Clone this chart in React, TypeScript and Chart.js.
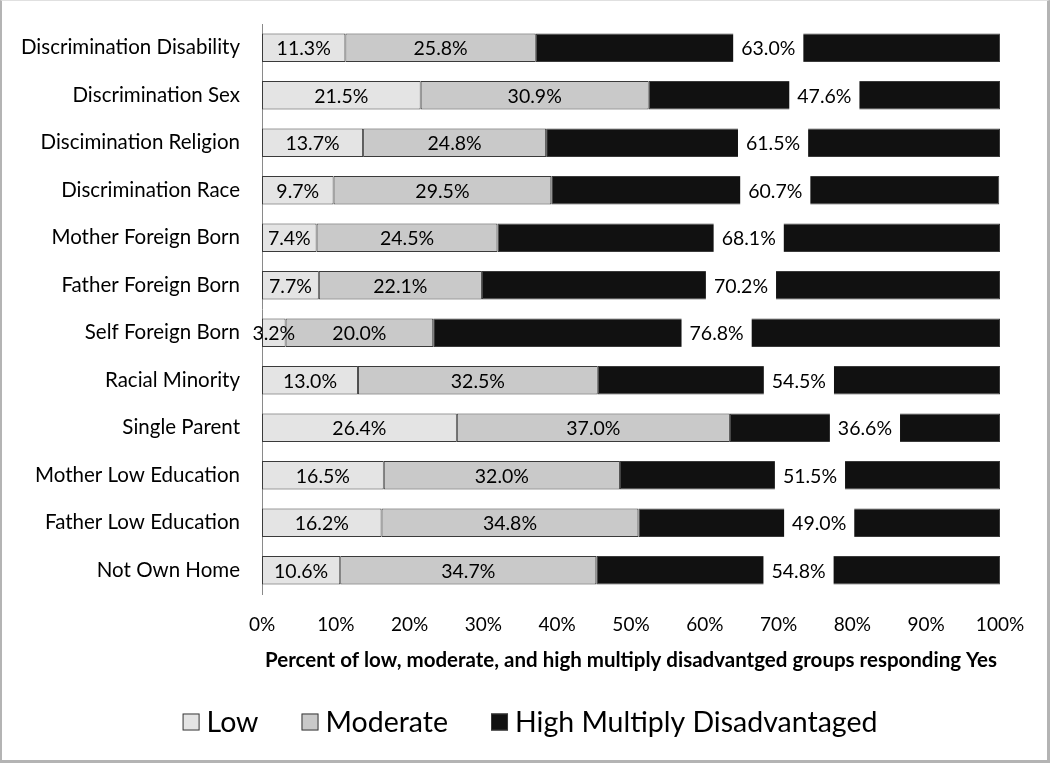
import React, { useEffect, useRef } from "react";
import { Chart, registerables } from "chart.js";

Chart.register(...registerables);

const categories = [
  "Discrimination Disability",
  "Discrimination Sex",
  "Discimination Religion",
  "Discrimination Race",
  "Mother Foreign Born",
  "Father Foreign Born",
  "Self Foreign Born",
  "Racial Minority",
  "Single Parent",
  "Mother Low Education",
  "Father Low Education",
  "Not Own Home",
];
const lowValues = [11.3, 21.5, 13.7, 9.7, 7.4, 7.7, 3.2, 13.0, 26.4, 16.5, 16.2, 10.6];
const moderateValues = [25.8, 30.9, 24.8, 29.5, 24.5, 22.1, 20.0, 32.5, 37.0, 32.0, 34.8, 34.7];
const highValues = [63.0, 47.6, 61.5, 60.7, 68.1, 70.2, 76.8, 54.5, 36.6, 51.5, 49.0, 54.8];
const seriesNames = ["Low", "Moderate", "High Multiply Disadvantaged"];
const xTicks = [0, 10, 20, 30, 40, 50, 60, 70, 80, 90, 100];
const xTitle = "Percent of low, moderate, and high multiply disadvantged groups responding Yes";

const FONT = "Lato, 'Open Sans', sans-serif";

const labelPlugin = {
  id: "segLabels",
  afterDatasetsDraw(chart: any) {
    const ctx = chart.ctx;
    ctx.save();
    ctx.font = `19.5px ${FONT}`;
    ctx.textAlign = "center";
    ctx.textBaseline = "middle";
    chart.data.datasets.forEach((ds: any, di: number) => {
      const meta = chart.getDatasetMeta(di);
      meta.data.forEach((el: any, j: number) => {
        const v = ds.data[j];
        const txt = v.toFixed(1) + "%";
        const cx = (el.x + el.base) / 2;
        const cy = el.y;
        if (di === 2) {
          const w = ctx.measureText(txt).width + 16;
          const h = el.height + 4;
          ctx.fillStyle = "#ffffff";
          ctx.fillRect(cx - w / 2, cy - h / 2, w, h);
        }
        ctx.fillStyle = "#000000";
        ctx.fillText(txt, cx, cy + 1);
      });
    });
    ctx.restore();
  },
};

const legendPlugin = {
  id: "customLegend",
  afterDraw(chart: any) {
    const ctx = chart.ctx;
    const ds = chart.data.datasets;
    const box = 17;
    const gapBoxText = 7;
    const gapItems = 43;
    ctx.save();
    ctx.font = `28.5px ${FONT}`;
    ctx.textBaseline = "middle";
    ctx.textAlign = "left";
    const widths = ds.map((d: any) => ctx.measureText(d.label).width);
    const total =
      widths.reduce((a: number, w: number) => a + box + gapBoxText + w, 0) + gapItems * (ds.length - 1);
    let x = chart.width / 2 + 5 - total / 2;
    const cy = chart.chartArea.bottom + 128;
    ds.forEach((d: any, i: number) => {
      ctx.fillStyle = d.backgroundColor;
      ctx.fillRect(x, cy - box / 2, box, box);
      ctx.strokeStyle = "#3a3a3a";
      ctx.lineWidth = 1;
      ctx.strokeRect(x + 0.5, cy - box / 2 + 0.5, box - 1, box - 1);
      ctx.fillStyle = "#000";
      ctx.fillText(d.label, x + box + gapBoxText, cy + 1);
      x += box + gapBoxText + widths[i] + gapItems;
    });
    ctx.restore();
  },
};

export default function App() {
  const ref = useRef<HTMLCanvasElement | null>(null);
  useEffect(() => {
    if (!ref.current) return;
    const chart = new Chart(ref.current, {
      type: "bar",
      data: {
        labels: categories,
        datasets: [
          {
            label: seriesNames[0],
            data: lowValues,
            backgroundColor: "#e4e4e4",
            borderColor: "#3a3a3a",
            borderWidth: 1,
            borderSkipped: false,
          },
          {
            label: seriesNames[1],
            data: moderateValues,
            backgroundColor: "#c9c9c9",
            borderColor: "#3a3a3a",
            borderWidth: 1,
            borderSkipped: false,
          },
          {
            label: seriesNames[2],
            data: highValues,
            backgroundColor: "#111111",
            borderColor: "#3a3a3a",
            borderWidth: 1,
            borderSkipped: false,
          },
        ],
      },
      options: {
        indexAxis: "y",
        responsive: false,
        animation: false,
        devicePixelRatio: 1,
        datasets: { bar: { categoryPercentage: 1, barPercentage: 0.6 } },
        layout: { padding: { top: 24, right: 50, bottom: 85, left: 0 } },
        plugins: {
          tooltip: { enabled: false },
          legend: { display: false },
        },
        scales: {
          x: {
            stacked: true,
            min: 0,
            max: 100,
            afterBuildTicks: (scale: any) => {
              scale.ticks = xTicks.map((v) => ({ value: v }));
            },
            afterFit: (scale: any) => {
              scale.height = 84;
            },
            grid: { display: false, drawTicks: false },
            border: { display: false },
            ticks: {
              color: "#000",
              font: { family: FONT, size: 19 },
              padding: 19,
              maxRotation: 0,
              callback: (v: any) => v + "%",
            },
            title: {
              display: true,
              text: xTitle,
              color: "#000",
              font: { family: FONT, size: 20.5, weight: "bold" },
              padding: { top: 0, bottom: 5 },
            },
          },
          y: {
            stacked: true,
            afterFit: (scale: any) => {
              scale.width = 262;
              scale.paddingTop = 0;
              scale.paddingBottom = 0;
            },
            grid: { display: false, drawTicks: false },
            border: { display: true, color: "#8a8a8a", width: 1 },
            ticks: {
              color: "#000",
              font: { family: FONT, size: 20.5 },
              padding: 22,
            },
          },
        },
      },
      plugins: [labelPlugin, legendPlugin],
    } as any);
    return () => chart.destroy();
  }, []);

  return (
    <div style={{ position: "absolute", left: 0, top: 0, width: 1050, height: 763, background: "#fff" }}>
      <canvas ref={ref} width={1050} height={763} style={{ position: "absolute", left: 0, top: 0 }} />
      <div
        style={{
          position: "absolute",
          left: 0,
          top: 0,
          width: 1050,
          height: 763,
          boxSizing: "border-box",
          borderLeft: "2px solid #b4b4b4",
          borderRight: "3px solid #b4b4b4",
          borderBottom: "3px solid #b4b4b4",
          borderTop: "1px solid #e0e0e0",
          pointerEvents: "none",
        }}
      />
    </div>
  );
}
